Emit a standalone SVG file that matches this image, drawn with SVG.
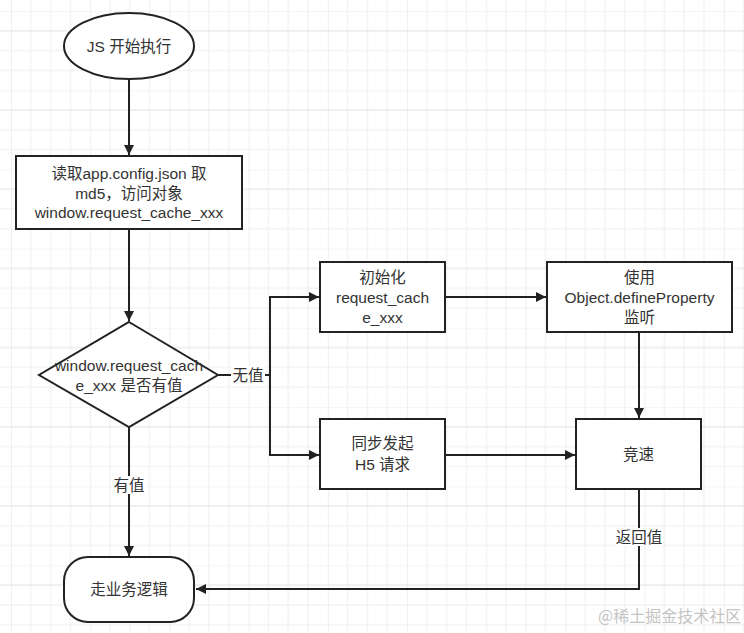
<svg xmlns="http://www.w3.org/2000/svg" width="744" height="633" viewBox="0 0 744 633">
  <style>
    .node { fill: #ffffff; stroke: #222222; stroke-width: 2; }
    .edge { fill: none; stroke: #222222; stroke-width: 2; }
    .t { font-family: "Liberation Sans", "Noto Sans CJK SC", sans-serif; font-size: 15.5px; fill: #333333; text-anchor: middle; dominant-baseline: central; }
    .lbl { fill: #ffffff; stroke: none; }
    .wm { font-family: "Noto Sans CJK SC", sans-serif; font-size: 16px; fill: #c4c4c4; }
  </style>
  <defs>
    <pattern id="grid" patternUnits="userSpaceOnUse" x="11" y="11" width="79.2" height="79.2">
      <path d="M19.8 0V79.2M39.6 0V79.2M59.4 0V79.2M0 0H79.2M0 39.6H79.2M0 59.4H79.2" stroke="#ededed" stroke-width="1" fill="none"/>
      <path d="M0 0V79.2M0 19.8H79.2" stroke="#e0e0e0" stroke-width="1" fill="none"/>
    </pattern>
    <marker id="arrow" viewBox="0 0 10 10" refX="10" refY="5" markerWidth="11" markerHeight="10" markerUnits="userSpaceOnUse" orient="auto">
      <path d="M0 0L10 5L0 10z" fill="#222222"/>
    </marker>
  </defs>
  <rect x="0" y="0" width="744" height="633" fill="#ffffff"/>
  <rect x="0" y="0" width="744" height="633" fill="url(#grid)"/>

  <g id="connectors">
    <path class="edge" d="M129 79V155" marker-end="url(#arrow)"/>
    <path class="edge" d="M129 229V321" marker-end="url(#arrow)"/>
    <path class="edge" d="M129 427V556" marker-end="url(#arrow)"/>
    <path class="edge" d="M218 375H270V297H319" marker-end="url(#arrow)"/>
    <path class="edge" d="M270 375V455H319" marker-end="url(#arrow)"/>
    <path class="edge" d="M445 297H546" marker-end="url(#arrow)"/>
    <path class="edge" d="M445 455H575" marker-end="url(#arrow)"/>
    <path class="edge" d="M639 332V418" marker-end="url(#arrow)"/>
    <path class="edge" d="M639 489V589H196" marker-end="url(#arrow)"/>
    <g id="label-wuzhi">
      <rect class="lbl" x="231" y="366" width="34" height="18"/>
      <text class="t" x="248" y="375">无值</text>
    </g>
    <g id="label-youzhi">
      <rect class="lbl" x="112" y="476" width="34" height="18"/>
      <text class="t" x="129" y="485">有值</text>
    </g>
    <g id="label-fanhuizhi">
      <rect class="lbl" x="615" y="528" width="48" height="18"/>
      <text class="t" x="639" y="537">返回值</text>
    </g>
  </g>

  <g id="start">
    <ellipse class="node" cx="129" cy="46" rx="65" ry="33"/>
    <text class="t" x="129" y="46">JS 开始执行</text>
  </g>

  <g id="read-config">
    <rect class="node" x="16" y="156" width="226" height="73"/>
    <text class="t" x="129" y="173">读取app.config.json 取</text>
    <text class="t" x="129" y="193">md5，访问对象</text>
    <text class="t" x="129" y="212">window.request_cache_xxx</text>
  </g>

  <g id="decision">
    <path class="node" d="M129 322L218 375L129 427L39 375z"/>
    <text class="t" x="129" y="365">window.request_cach</text>
    <text class="t" x="129" y="385">e_xxx 是否有值</text>
  </g>

  <g id="init">
    <rect class="node" x="320" y="262" width="125" height="70"/>
    <text class="t" x="382.5" y="277">初始化</text>
    <text class="t" x="382.5" y="297">request_cach</text>
    <text class="t" x="382.5" y="317">e_xxx</text>
  </g>

  <g id="define-property">
    <rect class="node" x="547" y="262" width="185" height="70"/>
    <text class="t" x="639.5" y="277">使用</text>
    <text class="t" x="639.5" y="297">Object.defineProperty</text>
    <text class="t" x="639.5" y="317">监听</text>
  </g>

  <g id="sync-request">
    <rect class="node" x="320" y="419" width="125" height="70"/>
    <text class="t" x="382.5" y="443">同步发起</text>
    <text class="t" x="382.5" y="464">H5 请求</text>
  </g>

  <g id="race">
    <rect class="node" x="576" y="419" width="125" height="70"/>
    <text class="t" x="638.5" y="454">竞速</text>
  </g>

  <g id="business">
    <rect class="node" x="64" y="557" width="130" height="65" rx="24" ry="24"/>
    <text class="t" x="129" y="589">走业务逻辑</text>
  </g>

  <text class="wm" x="598" y="622">@稀土掘金技术社区</text>
</svg>
